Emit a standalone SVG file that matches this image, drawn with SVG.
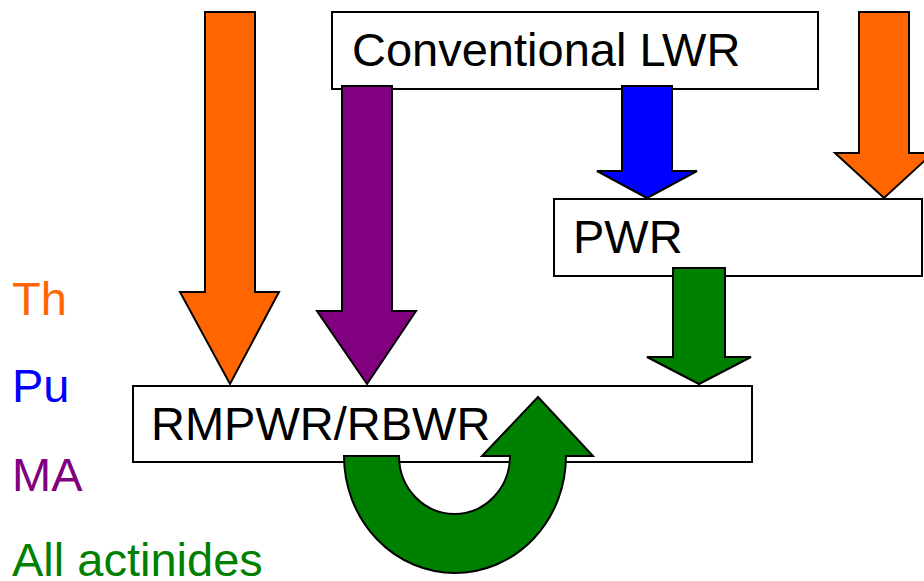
<svg xmlns="http://www.w3.org/2000/svg" width="924" height="581" viewBox="0 0 924 581">
<style>
.box{fill:#fff;stroke:#000;stroke-width:2}
.lbl{font-family:"Liberation Sans",Arial,sans-serif;font-size:47px;fill:#000}
.arr{stroke:#000;stroke-width:2;stroke-linejoin:miter}
.th{fill:#FF6600}.pu{fill:#0000FF}.ma{fill:#800080}.ac{fill:#008000}
</style>
<rect width="924" height="581" fill="#fff"/>
<g id="legend">
<text class="lbl th" x="12" y="315">Th</text>
<text class="lbl pu" x="12" y="402">Pu</text>
<text class="lbl ma" x="12" y="491">MA</text>
<text class="lbl ac" x="12" y="576">All actinides</text>
</g>
<g id="node-lwr">
<rect class="box" x="332" y="12" width="486" height="77"/>
<text class="lbl" x="352" y="66">Conventional LWR</text>
</g>
<g id="node-pwr">
<rect class="box" x="554" y="199" width="368" height="77"/>
<text class="lbl" x="573" y="253">PWR</text>
</g>
<g id="node-rmpwr">
<rect class="box" x="133" y="386" width="619" height="76"/>
<text class="lbl" x="151" y="440">RMPWR/RBWR</text>
</g>
<g id="connectors">
<path class="arr th" d="M205,12 H255 V292 H279 L230,384 L180,292 H205 Z"/>
<path class="arr ma" d="M342,86 H392 V311 H416 L367,384 L317,311 H342 Z"/>
<path class="arr pu" d="M622,86 H672 V171 H697 L647,198 L597,171 H622 Z"/>
<path class="arr th" d="M859,12 H909 V153 H933 L884,198 L835,153 H859 Z"/>
<path class="arr ac" d="M673,268 H725 V357 H751 L699,384 L647,357 H673 Z"/>
<path class="arr ac" d="M344,456 H399 A55.5,58 0 0 0 510,456 H482 L538,397 L593,456 H566 A111,117 0 0 1 344,456 Z"/>
</g>
</svg>
